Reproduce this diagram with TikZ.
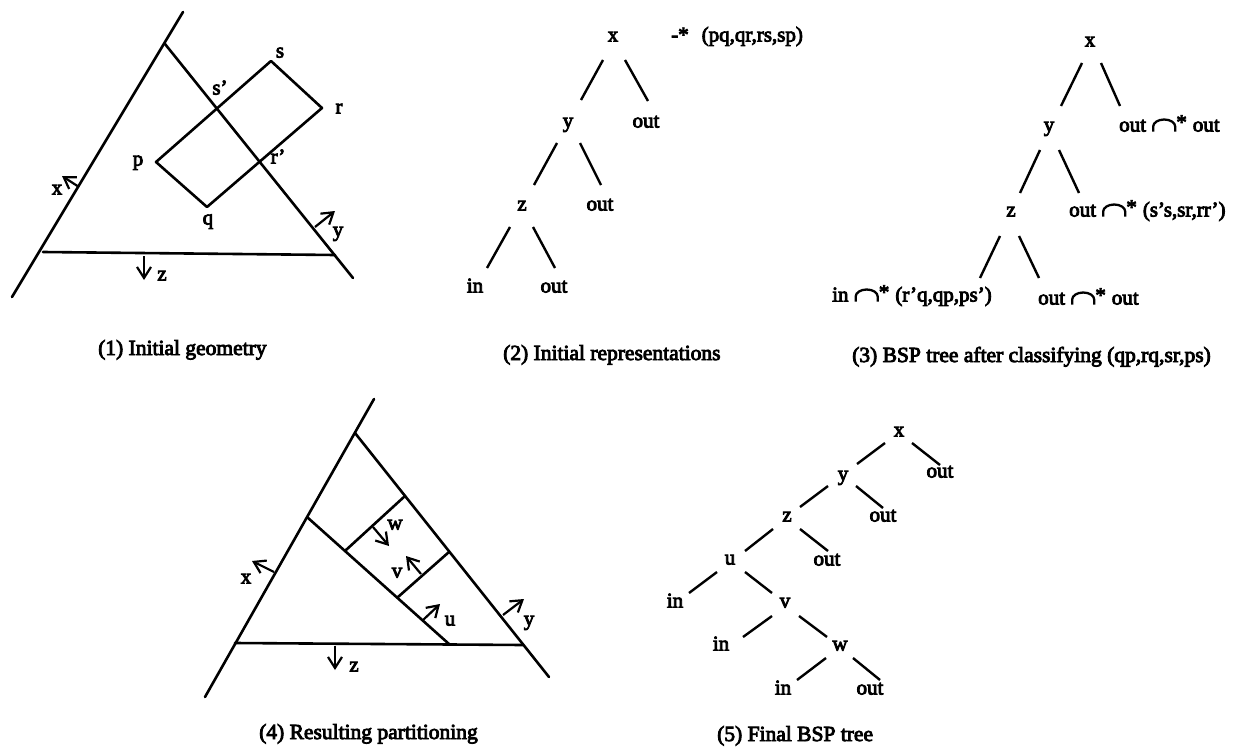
\documentclass[tikz,border=0pt]{standalone}
\usepackage{fontspec}
\setmainfont{Liberation Serif}[FakeBold=4]
\usetikzlibrary{arrows.meta}
\newcommand\lblfont{\fontsize{21pt}{24pt}\selectfont}
\newcommand\capfont{\fontsize{21.5pt}{24pt}\selectfont}
\newcommand\capst{\hspace{6pt}\tikz[x=1pt,y=1pt,baseline=0pt]\draw[line width=2.3pt,line cap=butt] (0,0) -- (0,5) arc[start angle=180,end angle=0,x radius=11pt,y radius=7pt] -- (22,0);\raisebox{2.5pt}{*}\hspace{6pt}}
\begin{document}
\begin{tikzpicture}[x=1pt,y=-1pt,
  geo/.style={line width=2.6pt, line cap=round},
  tline/.style={line width=2.4pt},
  lb/.style={font=\lblfont, inner sep=0pt, text height=9pt, text depth=0pt},
  lbw/.style={lb, anchor=west},
  capt/.style={font=\capfont, inner sep=0pt, anchor=base west},
  arr/.style={line width=2.2pt, -{Straight Barb[length=11pt,width=14pt,line width=2.2pt]}}]
\path[use as bounding box, fill=white] (0,0) rectangle (1236,752);

% ---------- (1) Initial geometry ----------
\coordinate (xa) at (183,12);  \coordinate (xb) at (12,297);
\coordinate (ya) at (165,44);  \coordinate (yb) at (353,278);
\coordinate (za) at (43,252);  \coordinate (zb) at (335,255);
\draw[geo] (xa) -- (xb);
\draw[geo] (ya) -- (yb);
\draw[geo] (za) -- (zb);
\coordinate (p) at (156,162); \coordinate (s) at (271,61);
\coordinate (r) at (322,108); \coordinate (q) at (207,207);
\draw[geo, line join=round] (p) -- (s) -- (r) -- (q) -- cycle;
\draw[arr] (79,187) -- (62,176);
\draw[arr] (315,227) -- (335,211);
\draw[arr] (144,256) -- (144,280);
\node[lb] (ls)  at (280,53)  {s};
\node[lb] (lsp) at (220,90)  {s'};
\node[lb] (lr)  at (339,109) {r};
\node[lb] (lp)  at (138,161) {p};
\node[lb] (lrp) at (278,159) {r'};
\node[lb] (lq)  at (208,220) {q};
\node[lb] (lx)  at (57,190)  {x};
\node[lb] (ly)  at (338,232) {y};
\node[lb] (lz)  at (162,276) {z};

% ---------- (2) Initial representations ----------
\node[lb] (x2)  at (613,37)  {x};
\node[lbw] (set2) at (671,37) {-*\hspace{13pt}(pq,qr,rs,sp)};
\node[lb] (y2)  at (568,123) {y};
\node[lb] (o2a) at (646,123) {out};
\node[lb] (z2)  at (522,206) {z};
\node[lb] (o2b) at (600,206) {out};
\node[lb] (in2) at (475,288) {in};
\node[lb] (o2c) at (554,288) {out};
\draw[tline] ([shift={(-10,23)}]x2.center) -- ([shift={(13,-23)}]y2.center);
\draw[tline] ([shift={(12,23)}]x2.center)  -- ([shift={(2,-22)}]o2a.center);
\draw[tline] ([shift={(-11,20)}]y2.center) -- ([shift={(12,-21)}]z2.center);
\draw[tline] ([shift={(12,20)}]y2.center)  -- ([shift={(1,-21)}]o2b.center);
\draw[tline] ([shift={(-12,21)}]z2.center) -- ([shift={(12,-20)}]in2.center);
\draw[tline] ([shift={(11,21)}]z2.center)  -- ([shift={(1,-20)}]o2c.center);

% ---------- (3) BSP tree after classifying ----------
\node[lb]  (x3)  at (1090,42)  {x};
\node[lb]  (y3)  at (1049,127) {y};
\node[lbw] (o3a) at (1119,127) {out\capst out};
\node[lb]  (z3)  at (1011,212) {z};
\node[lbw] (o3b) at (1069,212) {out\capst(s's,sr,rr')};
\node[lbw] (in3) at (832,297)  {in\capst(r'q,qp,ps')};
\node[lbw] (o3c) at (1038,300) {out\capst out};
\draw[tline] ([shift={(-8,21)}]x3.center)  -- ([shift={(12,-21)}]y3.center);
\draw[tline] ([shift={(11,21)}]x3.center)  -- ([shift={(1,-21)}]o3a.west);
\draw[tline] ([shift={(-9,23)}]y3.center)  -- ([shift={(9,-19)}]z3.center);
\draw[tline] ([shift={(10,23)}]y3.center)  -- ([shift={(10,-19)}]o3b.west);
\draw[tline] ([shift={(-11,24)}]z3.center) -- ([shift={(148,-19)}]in3.west);
\draw[tline] ([shift={(8,24)}]z3.center)   -- ([shift={(1,-22)}]o3c.west);

% ---------- (4) Resulting partitioning ----------
\coordinate (Xa) at (374,399); \coordinate (Xb) at (205,697);
\coordinate (Ya) at (355,433); \coordinate (Yb) at (549,677);
\coordinate (Za) at (235,643); \coordinate (Zb) at (523,645);
\coordinate (Ia) at (307,517); \coordinate (Ib) at (449,644);
\coordinate (Wa) at (346,550); \coordinate (Wb) at (405,496);
\coordinate (Ua) at (398,597); \coordinate (Ub) at (449,552);
\draw[geo] (Xa) -- (Xb);
\draw[geo] (Ya) -- (Yb);
\draw[geo] (Za) -- (Zb);
\draw[geo] (Ia) -- (Ib);
\draw[geo] (Wa) -- (Wb);
\draw[geo] (Ua) -- (Ub);
\draw[arr] (373,527) -- (389,546);
\draw[arr] (421,574) -- (406,556);
\draw[arr] (423,620) -- (440,604);
\draw[arr] (503,615) -- (524,599);
\draw[arr] (274,572) -- (252,561);
\draw[arr] (335,646) -- (335,670);
\node[lb] (l4w) at (395,525) {w};
\node[lb] (l4v) at (397,573) {v};
\node[lb] (l4u) at (450,621) {u};
\node[lb] (l4x) at (246,579) {x};
\node[lb] (l4y) at (529,621) {y};
\node[lb] (l4z) at (354,667) {z};

% ---------- (5) Final BSP tree ----------
\node[lb] (x5)  at (899,432) {x};
\node[lb] (y5)  at (843,476) {y};
\node[lb] (o5a) at (940,473) {out};
\node[lb] (z5)  at (787,517) {z};
\node[lb] (o5b) at (883,517) {out};
\node[lb] (u5)  at (730,560) {u};
\node[lb] (o5c) at (827,561) {out};
\node[lb] (in5a) at (675,603) {in};
\node[lb] (v5)  at (785,603) {v};
\node[lb] (in5b) at (721,646) {in};
\node[lb] (w5)  at (840,646) {w};
\node[lb] (in5c) at (783,690) {in};
\node[lb] (o5d) at (870,690) {out};
\draw[tline] ([shift={(-14,11)}]x5.center) -- ([shift={(14,-12)}]y5.center);
\draw[tline] ([shift={(13,11)}]x5.center)  -- ([shift={(0,-8)}]o5a.center);
\draw[tline] ([shift={(-15,10)}]y5.center) -- ([shift={(13,-10)}]z5.center);
\draw[tline] ([shift={(13,10)}]y5.center)  -- ([shift={(0,-9)}]o5b.center);
\draw[tline] ([shift={(-14,12)}]z5.center) -- ([shift={(15,-9)}]u5.center);
\draw[tline] ([shift={(13,12)}]z5.center)  -- ([shift={(1,-10)}]o5c.center);
\draw[tline] ([shift={(-13,12)}]u5.center) -- ([shift={(14,-10)}]in5a.center);
\draw[tline] ([shift={(15,12)}]u5.center)  -- ([shift={(-13,-10)}]v5.center);
\draw[tline] ([shift={(-13,13)}]v5.center) -- ([shift={(22,-9)}]in5b.center);
\draw[tline] ([shift={(14,13)}]v5.center)  -- ([shift={(-13,-9)}]w5.center);
\draw[tline] ([shift={(-14,12)}]w5.center) -- ([shift={(14,-10)}]in5c.center);
\draw[tline] ([shift={(13,12)}]w5.center)  -- ([shift={(10,-10)}]o5d.center);

% ---------- captions ----------
\node[capt] (c1) at (98,355)  {(1) Initial geometry};
\node[capt] (c2) at (503,360) {(2) Initial representations};
\node[capt] (c3) at (852,362) {(3) BSP tree after classifying (qp,rq,sr,ps)};
\node[capt] (c4) at (259,739) {(4) Resulting partitioning};
\node[capt] (c5) at (717,741) {(5) Final BSP tree};
\end{tikzpicture}
\end{document}
